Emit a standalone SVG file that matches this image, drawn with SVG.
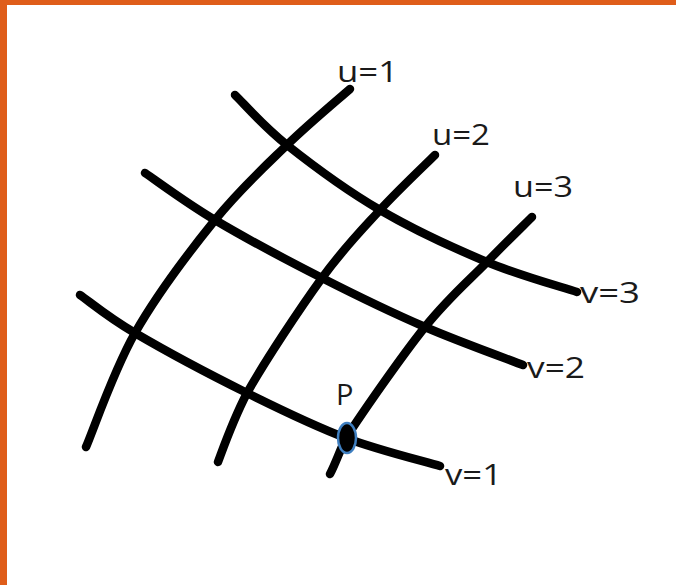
<svg xmlns="http://www.w3.org/2000/svg" width="676" height="585" viewBox="0 0 676 585">
  <style>
    .curve { fill: none; stroke: #000; stroke-width: 8.5; stroke-linecap: round; stroke-linejoin: round; }
    .lbl { font-family: "Open Sans", "Liberation Sans", sans-serif; font-size: 29px; fill: #1a1a1a; }
    .frame { fill: #df5d1a; }
  </style>
  <rect x="0" y="0" width="676" height="585" fill="#ffffff"/>
  <rect class="frame" x="0" y="0" width="676" height="5"/>
  <rect class="frame" x="0" y="0" width="7" height="585"/>

  <g id="connectors">
    <path id="u1" class="curve" d="M86,447 C94.2,428 113.5,370.8 135,333 C156.5,295.2 189.7,251.3 215,220 C240.3,188.7 264.5,166.8 287,145 C309.5,123.2 339.5,98.3 350,89"/>
    <path id="u2" class="curve" d="M218,462 C224,446 233,420 247,393 C264.3,362.3 299.8,308.5 322,278 C344.2,247.5 361.2,230.5 380,210 C398.8,189.5 425.8,164.2 435,155"/>
    <path id="u3" class="curve" d="M330,474 C335,465 340,450 346,438 C361.8,413.5 401.5,356.3 425,327 C448.5,297.7 469.2,280.3 487,262 C504.8,243.7 524.5,224.5 532,217"/>
    <path id="v3" class="curve" d="M235,95 C243.7,103.3 262.8,125.8 287,145 C311.2,164.2 346.7,190.5 380,210 C413.3,229.5 454.2,248.3 487,262 C519.8,275.7 562,287 577,292"/>
    <path id="v2" class="curve" d="M145,173 C156.7,180.8 185.5,202.5 215,220 C244.5,237.5 287,260.2 322,278 C357,295.8 391.5,312.5 425,327 C458.5,341.5 506.7,358.7 523,365"/>
    <path id="v1" class="curve" d="M80,295 C89.2,301.3 107.2,316.7 135,333 C162.8,349.3 211.8,375.5 247,393 C282.2,410.5 313.8,425.8 346,438 C378.2,450.2 424.3,461.3 440,466"/>
  </g>

  <g id="point-P">
    <ellipse cx="347" cy="438" rx="9" ry="15" fill="#000" stroke="#3f7fc0" stroke-width="2.5"/>
    <text class="lbl" x="336" y="405">P</text>
  </g>

  <g id="label-u1"><text class="lbl" x="337" y="82" textLength="61" lengthAdjust="spacingAndGlyphs">u=1</text></g>
  <g id="label-u2"><text class="lbl" x="432" y="145" textLength="58" lengthAdjust="spacingAndGlyphs">u=2</text></g>
  <g id="label-u3"><text class="lbl" x="513" y="197" textLength="60" lengthAdjust="spacingAndGlyphs">u=3</text></g>
  <g id="label-v3"><text class="lbl" x="580" y="303" textLength="60" lengthAdjust="spacingAndGlyphs">v=3</text></g>
  <g id="label-v2"><text class="lbl" x="527" y="378" textLength="58" lengthAdjust="spacingAndGlyphs">v=2</text></g>
  <g id="label-v1"><text class="lbl" x="445" y="485" textLength="57" lengthAdjust="spacingAndGlyphs">v=1</text></g>
</svg>
